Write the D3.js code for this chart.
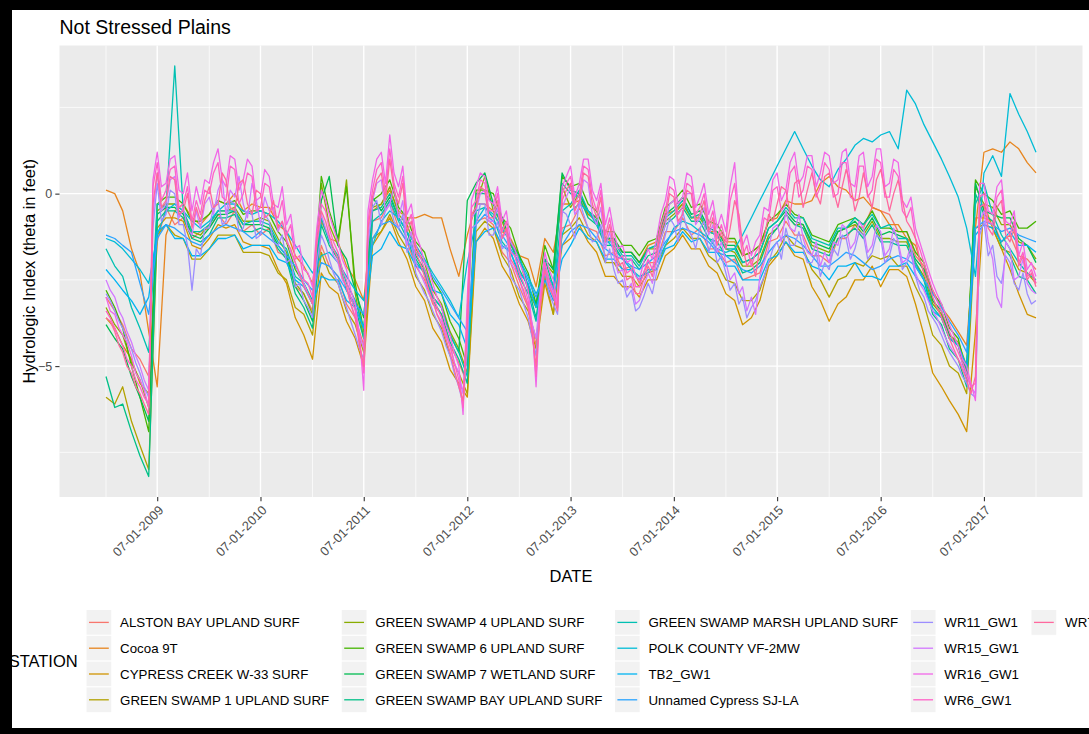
<!DOCTYPE html>
<html>
<head>
<meta charset="utf-8">
<script src="https://cdn.jsdelivr.net/npm/d3@7"></script>
<style>
  body { margin: 0; background: #fff; }
  svg { display: block; }
  text { font-family: "Liberation Sans", Arial, sans-serif; }
</style>
</head>
<body>
<script>

// readings from Jan 2009 to Jan 2018: 109 values = monthly (1st), 217 values = twice a month (1st, 16th)
var firstMonth = new Date(Date.UTC(2009, 0, 1)),
    lastMonth = new Date(Date.UTC(2018, 0, 1));

var stations = [
  "ALSTON BAY UPLAND SURF", "Cocoa 9T", "CYPRESS CREEK W-33 SURF", "GREEN SWAMP 1 UPLAND SURF",
  "GREEN SWAMP 4 UPLAND SURF", "GREEN SWAMP 6 UPLAND SURF", "GREEN SWAMP 7 WETLAND SURF", "GREEN SWAMP BAY UPLAND SURF",
  "GREEN SWAMP MARSH UPLAND SURF", "POLK COUNTY VF-2MW", "TB2_GW1", "Unnamed Cypress SJ-LA",
  "WR11_GW1", "WR15_GW1", "WR16_GW1", "WR6_GW1", "WR7_GW1"
];

var alstonBay = [
  -3.0,-3.4,-3.8,-4.5,-4.8,-5.3,-1.4,-0.4,-0.9,-0.7,-1.3,-1.1,
  -1.0,-0.6,-0.9,-0.5,-1.1,-0.9,-1.2,-1.0,-1.7,-1.8,-2.7,-2.9,
  -3.4,-1.5,-2.1,-2.4,-3.2,-3.6,-4.4,-0.8,-0.7,-0.2,-1.0,-1.4,
  -2.1,-2.5,-3.2,-3.5,-4.4,-4.9,-5.5,-0.8,-0.7,-0.9,-1.7,-2.0,
  -2.7,-3.3,-4.4,-2.2,-3.0,-1.0,-0.9,-0.4,-1.0,-1.1,-1.8,-1.7,
  -2.2,-2.1,-2.6,-2.0,-2.0,-1.1,-1.1,-0.7,-1.2,-1.0,-1.6,-1.6,
  -2.0,-1.9,-2.5,-2.4,-2.3,-1.4,-1.3,-0.8,-1.2,-1.2,-1.8,-1.8,
  -2.0,-1.3,-1.3,-0.9,-1.0,-0.4,-0.5,-0.6,-1.1,-1.1,-1.8,-2.1,
  -3.1,-3.5,-4.2,-4.4,-5.1,-0.7,-0.7,-0.8,-1.4,-1.2,-1.8,-1.9,
  -2.2
];
var cocoa9T = [
  0.1,0.0,-0.5,-1.6,-2.3,-4.0,-5.6,-1.2,-0.5,-0.3,-0.7,-0.9,
  -0.6,-0.2,-0.3,0.0,-0.5,-0.3,-0.4,-0.4,-0.9,-1.1,-1.8,-2.1,
  -2.6,-0.8,-1.3,-1.4,-2.1,-2.5,-3.1,-0.5,-0.3,0.1,-0.5,-0.7,
  -0.7,-0.6,-0.7,-0.7,-1.6,-2.4,-1.2,-0.3,-0.3,-0.5,-1.1,-1.3,
  -1.8,-1.9,-2.7,-1.3,-1.7,-0.3,-0.3,-0.2,-0.6,-0.8,-1.3,-1.4,
  -1.7,-1.7,-2.0,-1.5,-1.4,-0.6,-0.5,-0.3,-0.7,-0.6,-1.1,-1.1,
  -1.4,-1.4,-1.8,-1.7,-1.5,-0.8,-0.7,-0.2,-0.3,-0.3,-0.2,0.3,
  0.5,0.2,0.1,-0.2,-0.1,-0.4,-0.5,-0.9,-0.9,-1.3,-1.5,-2.3,
  -2.8,-3.3,-3.6,-4.0,-4.4,-1.0,1.2,1.3,1.2,1.5,1.3,0.9,
  0.6
];
var cypressCreek = [
  -3.6,-3.9,-4.4,-4.8,-5.5,-5.8,-1.0,-0.7,-0.7,-0.8,-1.5,-1.6,
  -1.3,-0.9,-1.0,-0.9,-1.4,-1.5,-1.5,-1.6,-2.2,-2.6,-3.6,-4.1,
  -4.8,-2.3,-2.7,-2.9,-3.7,-4.2,-5.0,-1.5,-1.1,-0.7,-1.4,-1.9,
  -2.7,-3.1,-3.9,-4.3,-5.1,-5.5,-5.9,-1.4,-1.0,-1.3,-2.1,-2.5,
  -3.2,-3.7,-4.5,-2.6,-3.5,-1.5,-1.3,-0.9,-1.4,-1.7,-2.4,-2.4,
  -2.7,-2.7,-3.0,-2.5,-2.5,-1.8,-1.6,-1.2,-1.6,-1.6,-2.1,-2.3,
  -2.9,-3.1,-3.8,-3.6,-3.1,-2.1,-1.8,-1.4,-1.8,-1.9,-2.7,-3.1,
  -3.7,-3.2,-3.0,-2.5,-2.5,-2.1,-2.7,-2.2,-2.2,-2.4,-3.2,-4.1,
  -5.2,-5.6,-6.0,-6.4,-6.9,-4.0,-0.3,-1.0,-1.6,-2.2,-2.9,-3.5,
  -3.6
];
var greenSwamp1 = [
  -5.9,-6.1,-5.6,-6.6,-7.3,-8.0,-1.2,-0.9,-1.2,-1.3,-1.9,-1.9,
  -1.6,-1.2,-1.2,-1.2,-1.7,-1.7,-1.7,-1.8,-2.3,-2.5,-3.3,-3.5,
  -4.1,-1.7,-2.3,-2.6,-3.4,-3.8,-4.6,-1.3,-1.1,-0.6,-1.2,-1.6,
  -2.4,-2.8,-3.5,-3.9,-4.7,-5.2,-5.8,-1.1,-0.8,-1.0,-1.8,-2.2,
  -3.0,-3.4,-4.2,-2.4,-3.5,-1.2,-1.0,-0.7,-1.2,-1.4,-2.0,-2.0,
  -2.4,-2.4,-2.7,-2.3,-2.2,-1.5,-1.3,-1.0,-1.3,-1.3,-1.8,-2.0,
  -2.5,-2.6,-3.1,-3.1,-2.8,-2.0,-1.7,-1.2,-1.5,-1.6,-2.2,-2.5,
  -3.0,-2.5,-2.4,-2.0,-2.1,-1.8,-1.9,-1.8,-2.1,-2.1,-2.7,-3.2,
  -4.1,-4.4,-5.0,-5.2,-5.8,-1.0,-0.9,-1.0,-1.6,-1.7,-2.2,-2.3,
  -2.6
];
var greenSwamp4 = [
  -3.3,-3.8,-4.1,-4.9,-5.4,-6.2,-0.5,-0.3,-0.3,-0.5,-1.1,-1.2,
  -0.9,-0.5,-0.5,-0.4,-0.8,-0.8,-0.7,-0.8,-1.3,-1.7,-2.6,-2.9,
  -3.5,0.3,-0.9,-1.5,0.4,-2.9,-4.2,-0.4,-0.3,0.2,-0.6,-0.9,
  -1.6,-2.0,-2.8,-3.2,-4.0,-4.5,-5.2,-0.3,0.5,-0.5,-0.8,-1.5,
  -1.9,-2.8,-3.3,-2.0,-2.3,0.2,-0.4,0.0,-0.6,-0.7,-1.3,-1.3,
  -1.7,-1.7,-2.0,-1.6,-1.6,-0.8,-0.6,-0.3,-0.7,-0.7,-1.1,-1.2,
  -1.6,-1.7,-2.1,-2.1,-1.9,-1.2,-1.0,-0.6,-0.9,-0.9,-1.5,-1.6,
  -1.7,-1.1,-1.0,-0.9,-1.2,-0.8,-1.3,-1.3,-1.4,-1.4,-2.0,-2.4,
  -3.2,-3.5,-4.1,-4.3,-5.0,0.2,-0.3,-0.4,-0.9,-0.9,-1.4,-1.5,
  -1.9
];
var greenSwamp6 = [
  -2.8,-3.3,-3.9,-5.0,-5.9,-6.9,-0.3,-0.1,-0.1,-0.3,-0.8,-0.8,
  -0.6,-0.2,-0.3,-0.2,-0.6,-0.5,-0.5,-0.6,-1.1,-1.4,-2.2,-2.6,
  -3.2,0.5,-0.5,-1.3,0.2,-2.6,-4.0,-0.2,0.0,0.4,-0.4,-0.7,
  -1.4,-1.7,-2.5,-2.9,-3.7,-4.2,-5.0,0.1,0.1,0.0,-0.7,-1.0,
  -1.8,-2.3,-3.2,-1.5,-2.2,0.5,0.2,0.3,-0.3,-0.5,-1.1,-1.1,
  -1.5,-1.5,-1.8,-1.4,-1.3,-0.4,-0.2,0.1,-0.4,-0.3,-0.8,-0.9,
  -1.3,-1.3,-1.8,-1.7,-1.5,-0.8,-0.6,-0.3,-0.6,-0.7,-1.2,-1.3,
  -1.4,-0.9,-0.8,-0.7,-0.9,-0.5,-1.0,-1.0,-1.1,-1.1,-1.7,-2.0,
  -2.9,-3.2,-3.9,-4.2,-5.2,0.4,0.0,-0.2,-0.6,-0.5,-1.0,-1.0,
  -0.8
];
var greenSwamp7 = [
  -3.8,-4.2,-4.5,-5.3,-5.9,-6.6,-0.6,-0.4,-0.4,-0.6,-1.2,-1.3,
  -1.0,-0.6,-0.6,-0.5,-0.9,-0.9,-0.9,-1.0,-1.5,-1.8,-2.7,-3.1,
  -3.7,-0.2,0.5,-1.5,-1.9,-2.8,-3.6,-0.1,-0.5,-0.1,-0.7,-1.1,
  -1.8,-2.2,-3.0,-3.3,-4.1,-4.6,-0.2,0.3,0.6,-0.3,-0.7,-1.4,
  -1.8,-2.7,-3.2,-1.9,-2.2,0.6,0.1,0.0,-0.5,-0.7,-1.3,-1.3,
  -1.7,-1.7,-2.0,-1.6,-1.5,-0.6,-0.4,-0.1,-0.6,-0.5,-1.0,-1.1,
  -1.5,-1.5,-2.0,-1.9,-1.7,-1.0,-0.8,-0.5,-0.8,-0.9,-1.4,-1.5,
  -1.6,-1.1,-1.0,-0.8,-1.1,-0.7,-1.2,-1.1,-1.2,-1.3,-1.9,-2.2,
  -3.1,-3.4,-4.1,-4.4,-5.4,0.3,-0.5,-0.6,-0.7,-0.7,-1.3,-1.5,
  -2.0
];
var greenSwampBay = [
  -5.3,-6.2,-6.1,-6.9,-7.6,-8.2,-0.8,-0.5,-0.5,-0.7,-1.3,-1.4,
  -1.2,-0.7,-0.7,-0.6,-1.1,-1.1,-1.0,-1.1,-1.6,-1.9,-2.9,-3.3,
  -3.9,-0.9,-1.5,-1.9,-2.8,-3.3,-4.2,-0.5,-0.4,0.0,-0.7,-1.1,
  -1.9,-2.3,-3.1,-3.5,-4.3,-4.8,-5.5,0.0,0.0,-0.3,-1.0,-1.4,
  -2.2,-2.7,-3.6,-1.9,-2.7,0.3,0.0,-0.1,-0.7,-0.9,-1.5,-1.5,
  -1.9,-1.9,-2.2,-1.8,-1.7,-0.9,-0.7,-0.4,-0.8,-0.8,-1.3,-1.4,
  -1.8,-1.8,-2.3,-2.2,-2.0,-1.3,-1.0,-0.6,-0.9,-1.0,-1.6,-1.7,
  -1.8,-1.3,-1.2,-1.0,-1.3,-0.9,-1.4,-1.4,-1.5,-1.5,-2.1,-2.5,
  -3.5,-3.8,-4.5,-4.8,-5.6,0.0,-0.6,-0.8,-1.5,-1.8,-2.4,-2.5,
  -2.9
];
var greenSwampMarsh = [
  -1.6,-2.1,-2.4,-3.3,-3.9,-4.6,-0.3,-0.4,3.7,-0.5,-1.1,-1.1,
  -0.9,-0.5,-0.5,-0.5,-0.9,-0.8,-0.8,-0.9,-1.4,-1.6,-2.4,-2.6,
  -3.1,-0.7,-1.4,-1.8,-2.6,-3.1,-3.9,-0.8,-0.6,-0.2,-0.8,-1.3,
  -2.0,-2.3,-3.0,-3.3,-4.1,-4.6,-5.3,-0.5,-0.4,-0.7,-1.4,-1.7,
  -2.4,-2.9,-3.7,-2.1,-2.8,-0.5,-0.3,0.1,-0.5,-0.8,-1.4,-1.4,
  -1.8,-1.8,-2.1,-1.6,-1.5,-0.7,-0.5,-0.2,-0.7,-0.6,-1.1,-1.2,
  -1.6,-1.6,-2.0,-1.9,-1.7,-1.0,-0.8,-0.4,-0.7,-0.7,-1.3,-1.4,
  -1.5,-1.0,-1.0,-0.7,-0.9,-0.6,-1.0,-0.9,-1.3,-1.3,-2.0,-2.5,
  -3.3,-3.6,-4.2,-4.4,-5.1,-0.3,0.3,-0.6,-1.2,-1.6,-2.0,-2.3,
  -2.5
];
var polkCounty = [
  -1.3,-1.4,-1.6,-1.9,-2.2,-2.6,-1.2,-0.5,-0.3,-0.5,-0.8,-1.0,
  -0.8,-0.5,-0.3,-0.3,-0.5,-0.6,-0.5,-0.6,-0.8,-1.1,-1.5,-1.9,
  -2.3,-1.8,-1.7,-2.0,-2.4,-2.8,-3.1,-1.5,-0.8,-0.5,-0.7,-1.1,
  -1.5,-1.9,-2.3,-2.7,-3.1,-3.6,-2.0,-0.8,-0.4,-0.6,-1.0,-1.4,
  -1.9,-2.4,-2.9,-2.4,-2.6,-1.2,-0.5,-0.3,-0.5,-0.9,-1.3,-1.6,
  -1.9,-2.2,-2.4,-2.3,-2.0,-1.5,-1.0,-0.8,-0.9,-1.1,-1.3,-1.6,
  -1.7,-1.6,-1.2,-0.7,-0.2,0.3,0.8,1.3,1.8,1.3,0.8,0.4,
  0.2,0.7,1.0,1.4,1.6,1.5,1.7,1.8,1.3,3.0,2.6,2.0,
  1.5,1.0,0.5,-0.1,-1.0,-2.4,0.6,1.1,0.5,2.9,2.3,1.8,
  1.2
];
var tb2 = [
  -2.2,-2.5,-2.8,-3.1,-3.5,-3.0,-1.1,-0.9,-1.3,-1.3,-1.8,-1.8,
  -1.6,-1.3,-1.3,-1.2,-1.6,-1.5,-1.5,-1.5,-1.9,-2.0,-2.5,-2.7,
  -3.2,-2.4,-2.5,-2.5,-3.1,-3.3,-3.9,-1.8,-1.6,-1.1,-1.5,-1.6,
  -2.1,-2.2,-2.8,-2.9,-3.5,-3.8,-4.5,-1.4,-1.1,-1.0,-1.5,-1.7,
  -2.3,-2.6,-3.3,-2.5,-3.1,-1.9,-1.5,-1.0,-1.3,-1.4,-1.9,-1.9,
  -2.2,-2.2,-2.5,-2.2,-2.2,-1.6,-1.5,-1.1,-1.4,-1.3,-1.7,-1.7,
  -2.1,-2.1,-2.5,-2.5,-2.5,-1.9,-1.8,-1.4,-1.7,-1.7,-2.1,-2.2,
  -2.5,-2.1,-2.1,-2.0,-2.4,-2.4,-2.5,-2.1,-2.1,-2.0,-2.4,-2.7,
  -3.4,-3.6,-4.2,-4.4,-5.0,-1.2,-0.9,-1.0,-1.4,-1.1,-1.5,-1.5,
  -1.7
];
var unnamedCypress = [
  -1.2,-1.3,-1.5,-1.7,-2.6,-3.5,-1.3,-0.9,-1.0,-1.2,-1.4,-1.5,
  -1.2,-1.0,-0.9,-1.0,-1.1,-1.3,-1.1,-1.3,-1.5,-1.8,-2.1,-2.5,
  -2.8,-2.0,-2.1,-2.4,-2.8,-3.2,-3.5,-1.3,-0.9,-0.8,-1.0,-1.4,
  -1.7,-2.0,-2.4,-2.8,-3.2,-3.6,-4.0,-0.9,-0.6,-0.8,-1.2,-1.6,
  -2.0,-2.5,-3.0,-2.3,-2.8,-1.5,-1.1,-0.9,-1.0,-1.3,-1.6,-1.8,
  -1.9,-2.1,-2.2,-2.0,-1.8,-1.4,-1.1,-1.0,-1.1,-1.2,-1.4,-1.7,
  -1.8,-2.0,-2.2,-2.3,-2.1,-1.7,-1.4,-1.2,-1.3,-1.5,-1.8,-2.1,
  -2.1,-1.9,-1.7,-1.8,-2.0,-2.2,-2.1,-1.9,-1.8,-1.9,-2.1,-2.5,
  -2.9,-3.3,-3.7,-4.1,-4.6,-1.0,-0.8,-0.9,-1.1,-1.0,-1.2,-1.3,
  -1.4
];
var wr11 = [
  -2.9,-3.1,-3.4,-3.7,-3.9,-4.2,-4.5,-4.9,-5.2,-5.6,-5.9,-1.0,0.3,-0.8,-0.6,0.1,0.0,-0.9,-0.9,-1.5,-2.8,-1.6,-1.8,-1.0,
  -1.0,-0.4,-0.2,-0.9,-0.8,-0.2,-0.3,-1.1,-1.0,-0.5,-0.6,-1.3,-1.2,-0.6,-0.8,-1.4,-1.5,-1.2,-2.0,-1.9,-2.7,-2.6,-3.1,-3.3,
  -3.6,-2.0,-1.2,-1.5,-1.9,-2.3,-2.6,-3.0,-3.3,-3.7,-4.1,-4.5,-4.8,-1.5,-0.4,-0.2,-0.9,-0.5,-0.3,-0.8,-1.0,-0.6,-1.7,-1.4,
  -2.3,-2.6,-2.9,-3.1,-3.4,-3.7,-4.0,-4.4,-4.7,-5.2,-5.6,-6.1,-4.5,-1.0,-0.9,-0.3,-0.3,-1.2,-1.2,-0.8,-1.6,-1.5,-2.4,-2.6,
  -2.8,-3.2,-3.6,-4.2,-4.7,-3.0,-2.2,-2.9,-3.2,-3.5,-0.5,-0.6,-0.9,-1.3,-0.2,-0.6,-1.0,-1.4,-1.3,-0.9,-2.0,-1.6,-2.2,-2.6,
  -2.5,-3.0,-2.8,-3.4,-3.3,-3.0,-2.6,-2.9,-2.3,-1.7,-1.2,-0.7,-0.9,-1.4,-0.5,-1.0,-1.2,-1.6,-1.0,-0.8,-1.7,-1.3,-2.0,-1.8,
  -2.3,-2.8,-2.6,-3.2,-3.0,-3.6,-3.3,-3.1,-2.7,-2.4,-2.0,-1.6,-1.4,-1.9,-1.0,-1.5,-1.5,-1.1,-1.6,-2.0,-2.0,-1.7,-2.4,-2.0,
  -2.2,-1.6,-1.8,-1.2,-1.3,-1.9,-1.6,-1.1,-1.2,-1.9,-1.7,-1.2,-1.3,-2.0,-1.8,-1.3,-1.5,-2.2,-2.0,-1.7,-2.4,-2.8,-3.0,-3.4,
  -3.6,-3.8,-4.1,-4.4,-4.6,-4.8,-5.0,-5.3,-5.5,-5.8,-5.9,-1.2,-0.8,-1.8,-1.5,-2.4,-2.6,-1.8,-2.0,-2.6,-2.8,-2.3,-2.9,-3.2,
  -3.1
];
var wr15 = [
  -2.5,-2.8,-3.0,-3.4,-3.6,-4.0,-4.3,-4.7,-5.0,-5.4,-5.7,-0.6,0.6,-0.5,-0.3,0.4,0.5,-0.7,-0.4,-1.0,-1.2,-0.5,-1.0,-0.3,
  -0.1,-0.6,0.1,0.4,-0.6,0.1,-0.1,0.5,-0.3,-0.7,0.3,-0.2,-0.9,-0.1,-0.5,-0.4,-1.1,-0.8,-1.3,-1.7,-2.0,-2.4,-2.6,-2.9,
  -3.2,-1.5,-0.6,-1.0,-1.3,-1.8,-2.0,-2.5,-2.7,-3.2,-3.6,-4.1,-4.5,-1.2,-0.2,0.3,0.4,-0.5,-0.3,0.2,-0.7,-0.2,-1.5,-1.1,
  -2.0,-2.3,-2.6,-2.9,-3.1,-3.5,-3.7,-4.1,-4.4,-4.9,-5.2,-5.8,-3.8,-0.7,-0.5,0.0,0.1,-0.8,-0.8,-0.4,-1.3,-1.1,-2.0,-2.2,
  -2.5,-2.9,-3.2,-3.8,-4.2,-2.8,-2.0,-2.6,-2.9,-3.3,-0.4,-0.1,0.2,-0.6,-0.4,0.4,0.3,-0.6,-0.9,-0.4,-1.6,-1.1,-1.8,-2.3,
  -2.2,-2.8,-2.6,-3.2,-3.1,-2.7,-2.3,-2.6,-2.0,-1.3,-0.9,-0.3,-0.2,-0.9,-0.6,0.0,0.0,-0.9,-0.7,-0.4,-1.2,-0.9,-1.7,-1.4,
  -2.0,-2.5,-2.3,-2.9,-2.7,-3.4,-3.0,-3.5,-2.4,-2.0,-1.6,-1.0,-0.9,-1.4,-0.5,-1.0,-1.1,-0.6,-1.3,-1.7,-1.8,-1.4,-2.1,-1.7,
  -2.0,-1.4,-1.5,-0.9,-1.0,-1.6,-1.4,-0.8,-1.0,-1.7,-1.5,-0.9,-1.1,-1.8,-1.6,-1.0,-1.4,-2.0,-1.9,-1.5,-2.3,-2.6,-2.8,-3.1,
  -3.4,-3.6,-3.9,-4.2,-4.4,-4.6,-4.8,-5.0,-5.3,-5.6,-5.8,-0.8,-0.5,-1.4,-1.9,-3.0,-3.3,-1.4,-1.6,-2.5,-2.4,-1.9,-2.6,-2.8,
  -2.9
];
var wr16 = [
  -3.0,-3.4,-3.5,-3.9,-4.1,-4.3,-4.7,-5.2,-5.4,-5.7,-6.2,0.4,1.2,0.2,0.3,1.0,1.1,0.1,0.0,0.6,-0.5,0.2,-0.3,0.4,
  0.3,0.9,1.3,0.4,0.2,1.1,1.0,0.1,0.4,1.0,0.8,-0.2,-0.1,0.7,0.5,-0.3,-0.4,0.2,-0.9,-0.6,-1.6,-1.5,-2.2,-2.3,
  -2.7,-1.0,0.1,-0.2,-0.6,-1.0,-1.4,-1.9,-2.2,-2.8,-3.2,-4.1,-5.7,-0.5,0.4,1.0,1.2,0.3,1.7,0.6,0.2,0.8,-0.6,-0.3,
  -1.2,-1.5,-2.0,-2.2,-2.6,-3.0,-3.3,-3.8,-4.1,-4.6,-5.0,-6.4,-3.0,-0.2,0.2,0.6,0.5,-0.2,-0.3,0.2,-0.8,-0.5,-1.4,-1.6,
  -2.0,-2.3,-2.8,-3.9,-5.6,-3.0,-1.7,-2.2,-2.5,-3.2,0.2,0.5,0.8,-0.1,0.3,1.0,1.0,0.1,-0.2,0.3,-0.9,-0.4,-1.1,-1.6,
  -1.5,-2.0,-1.9,-2.4,-2.5,-2.0,-1.6,-1.9,-1.3,-0.6,-0.2,0.5,0.4,-0.3,-0.1,0.6,0.5,-0.4,-0.1,0.3,-0.6,-0.2,-1.0,-0.6,
  -1.1,0.2,0.9,-0.8,-1.5,-1.2,-1.8,-1.4,-1.2,-0.4,-0.5,0.4,0.6,-0.2,0.1,0.9,1.2,0.3,0.5,1.1,1.1,0.2,0.6,1.2,
  1.1,0.3,0.4,1.2,1.3,0.3,0.2,1.1,1.2,0.2,0.5,1.3,1.3,0.2,0.3,1.0,0.9,-0.2,-0.4,-0.1,-1.0,-1.4,-1.8,-2.2,
  -2.6,-2.9,-3.2,-3.5,-3.8,-4.1,-4.4,-4.8,-5.0,-5.5,-6.0,0.3,0.3,-0.5,-0.6,0.2,0.4,-0.8,-0.9,-0.5,-1.8,-1.4,-2.2,-2.0,
  -2.4
];
var wr6 = [
  -3.4,-3.6,-3.9,-4.2,-4.4,-4.8,-5.0,-5.4,-5.6,-5.9,-6.1,0.2,0.9,-0.2,0.1,0.7,0.8,-0.4,-0.3,0.2,-0.8,-0.2,-0.6,0.1,
  0.0,0.6,0.9,-0.1,-0.2,0.8,0.7,-0.3,0.0,0.6,0.5,-0.5,-0.4,0.3,0.2,-0.6,-0.7,-0.2,-1.2,-0.9,-1.9,-1.8,-2.5,-2.6,
  -3.0,-1.2,-0.3,-0.5,-1.0,-1.4,-1.7,-2.2,-2.5,-3.0,-3.4,-4.3,-5.2,-0.8,0.1,0.7,0.9,0.0,1.3,0.3,-0.1,0.5,-0.9,-0.6,
  -1.5,-1.8,-2.2,-2.6,-2.9,-3.3,-3.6,-4.0,-4.4,-4.9,-5.4,-6.2,-3.4,-0.4,-0.2,0.4,0.3,-0.5,-0.5,0.0,-1.1,-0.8,-1.7,-1.8,
  -2.3,-2.6,-3.1,-4.0,-5.3,-3.2,-2.0,-2.5,-2.8,-3.3,0.0,0.3,0.5,-0.3,0.0,0.8,0.7,-0.1,-0.5,0.1,-1.2,-0.7,-1.4,-1.9,
  -1.8,-2.3,-2.2,-2.7,-2.7,-2.3,-1.9,-2.2,-1.6,-0.9,-0.5,0.2,0.1,-0.6,-0.4,0.3,0.2,-0.6,-0.4,0.0,-0.9,-0.5,-1.3,-0.9,
  -1.4,-0.2,0.3,-1.0,-1.8,-1.5,-2.1,-1.7,-1.5,-0.7,-0.8,0.1,0.2,-0.5,-0.3,0.6,0.8,-0.1,0.1,0.8,0.7,-0.1,0.2,0.9,
  0.7,-0.1,0.0,0.9,0.9,-0.1,-0.2,0.8,0.8,-0.1,0.1,1.0,0.9,-0.1,-0.1,0.7,0.5,-0.5,-0.7,-0.4,-1.3,-1.6,-2.0,-2.4,
  -2.8,-3.1,-3.4,-3.7,-4.0,-4.3,-4.6,-4.9,-5.2,-5.6,-5.5,-0.1,0.0,-0.8,-0.9,-0.1,0.1,-1.0,-1.2,-0.8,-2.0,-1.7,-2.4,-2.2,
  -2.6
];
var wr7 = [
  -3.6,-3.7,-4.0,-4.4,-4.6,-5.0,-5.2,-5.6,-5.8,-6.1,-6.4,-0.3,0.6,-0.4,-0.2,0.5,0.4,-0.6,-0.5,0.0,-1.0,-0.4,-0.8,-0.2,
  0.2,-0.4,-0.3,0.6,0.4,-0.4,-0.5,0.3,0.4,-0.3,-0.6,0.1,0.0,-0.7,-0.6,-0.2,-1.0,-0.8,-1.4,-1.6,-2.0,-2.3,-2.7,-2.9,
  -3.2,-1.4,-0.5,-0.8,-1.2,-1.6,-1.9,-2.4,-2.7,-3.2,-3.6,-4.4,-5.0,-1.0,-0.1,0.4,0.6,-0.2,1.0,0.1,-0.3,0.3,-1.1,-0.8,
  -1.7,-2.0,-2.4,-2.8,-3.1,-3.5,-3.8,-4.2,-4.6,-5.1,-5.6,-6.0,-4.0,-0.6,-0.4,0.2,0.1,-0.7,-0.7,-0.2,-1.3,-1.0,-1.9,-2.1,
  -2.5,-2.8,-3.3,-4.1,-5.0,-3.3,-2.2,-2.7,-3.0,-3.4,-0.2,0.1,0.3,-0.5,-0.2,0.6,0.5,-0.3,-0.7,-0.1,-1.4,-0.9,-1.6,-2.1,
  -2.0,-2.5,-2.4,-2.9,-2.9,-2.5,-2.1,-2.4,-1.8,-1.1,-0.7,0.0,-0.1,-0.8,-0.6,0.1,0.0,-0.8,-0.6,-0.2,-1.1,-0.7,-1.5,-1.1,
  -1.6,-1.0,-0.2,-0.6,-1.5,-2.1,-1.9,-2.4,-1.5,-1.3,-0.6,-0.8,-0.3,0.2,0.1,-0.6,0.3,0.4,-0.4,0.1,0.6,0.0,-0.3,0.5,
  0.6,0.1,-0.4,0.2,0.7,0.3,-0.5,-0.1,0.6,0.0,-0.4,0.4,0.7,0.1,-0.5,0.0,0.4,-0.2,-0.8,-1.0,-1.3,-1.9,-2.3,-2.6,
  -3.0,-3.3,-3.6,-3.9,-4.2,-4.5,-4.8,-5.1,-5.4,-5.8,-5.3,-0.4,-0.3,-1.0,-1.2,-0.4,-0.2,-1.2,-1.4,-1.0,-2.1,-1.8,-2.5,-2.3,
  -2.7
];

var stationValues = [alstonBay, cocoa9T, cypressCreek, greenSwamp1, greenSwamp4, greenSwamp6,
  greenSwamp7, greenSwampBay, greenSwampMarsh, polkCounty, tb2, unnamedCypress,
  wr11, wr15, wr16, wr6, wr7];

var xTickDates = ["2009-07-01", "2010-07-01", "2011-07-01", "2012-07-01", "2013-07-01",
  "2014-07-01", "2015-07-01", "2016-07-01", "2017-07-01"];
var xMinorDates = ["2009-01-01", "2010-01-01", "2011-01-01", "2012-01-01", "2013-01-01",
  "2014-01-01", "2015-01-01", "2016-01-01", "2017-01-01", "2018-01-01"];
var yTicks = [0, -5];
var yMinorTicks = [2.5, -2.5, -7.5];

var width = 1089,
    height = 734,
    panel = { left: 59.5, right: 1082.5, top: 45.5, bottom: 497 };

var months = d3.utcMonth.range(firstMonth, d3.utcDay.offset(lastMonth, 1));
var halfMonths = [];
months.forEach(function(m, i) {
  halfMonths.push(m);
  if (i < months.length - 1) halfMonths.push(d3.utcDay.offset(m, 15));
});
var parseDay = d3.utcParse("%Y-%m-%d");
var fmt = d3.utcFormat("%m-%d-%Y");

// ggplot-like hue palette (polar LUV), computed instead of typed
function hclLuv(h, c, l) {
  var wu = 0.1978398, wv = 0.4683363;
  var rad = h * Math.PI / 180,
      U = c * Math.cos(rad), V = c * Math.sin(rad);
  var Y = 100 * (l > 7.999592 ? Math.pow((l + 16) / 116, 3) : l / 903.3);
  var u = U / (13 * l) + wu, v = V / (13 * l) + wv;
  var X = 9 * Y * u / (4 * v);
  var Z = -X / 3 - 5 * Y + 3 * Y / v;
  function g(t) {
    t = t > 0.00304 ? 1.055 * Math.pow(t, 1 / 2.4) - 0.055 : 12.92 * t;
    return Math.round(255 * Math.max(0, Math.min(1, t)));
  }
  var r = g((3.240479 * X - 1.53715 * Y - 0.498535 * Z) / 100),
      gg = g((-0.969256 * X + 1.875992 * Y + 0.041556 * Z) / 100),
      b = g((0.055648 * X - 0.204043 * Y + 1.057311 * Z) / 100);
  return d3.rgb(r, gg, b).formatHex();
}

var n = stations.length;
var color = d3.scaleOrdinal()
    .domain(stations)
    .range(stations.map(function(d, i) { return hclLuv(15 + i * 360 / n, 100, 65); }));

var series = stations.map(function(name, i) {
  var vals = stationValues[i],
      dates = vals.length > months.length ? halfMonths : months;
  return {
    name: name,
    values: vals.map(function(v, j) { return { date: dates[j], value: v }; })
  };
});

// scales with 5% expansion like ggplot
var t0 = +firstMonth, t1 = +lastMonth, tPad = (t1 - t0) * 0.05;
var x = d3.scaleUtc()
    .domain([new Date(t0 - tPad), new Date(t1 + tPad)])
    .range([panel.left, panel.right]);

var allVals = d3.merge(stationValues);
var vMin = d3.min(allVals), vMax = d3.max(allVals), vPad = (vMax - vMin) * 0.05;
var y = d3.scaleLinear()
    .domain([vMin - vPad, vMax + vPad])
    .range([panel.bottom, panel.top]);

var svg = d3.select("body").append("svg")
    .attr("width", width)
    .attr("height", height);

svg.append("rect").attr("width", width).attr("height", height).attr("fill", "#fff");

// title
svg.append("text")
    .attr("x", panel.left)
    .attr("y", 34)
    .attr("font-size", 19.5)
    .attr("fill", "#000")
    .text("Not Stressed Plains");

// panel
svg.append("rect")
    .attr("x", panel.left)
    .attr("y", panel.top)
    .attr("width", panel.right - panel.left)
    .attr("height", panel.bottom - panel.top)
    .attr("fill", "#EBEBEB");

var grid = svg.append("g");
grid.selectAll(".ymin").data(yMinorTicks).enter().append("line")
    .attr("x1", panel.left).attr("x2", panel.right)
    .attr("y1", y).attr("y2", y)
    .attr("stroke", "#fff").attr("stroke-width", 0.7);
grid.selectAll(".xmin").data(xMinorDates.map(parseDay)).enter().append("line")
    .attr("x1", x).attr("x2", x)
    .attr("y1", panel.top).attr("y2", panel.bottom)
    .attr("stroke", "#fff").attr("stroke-width", 0.7);
grid.selectAll(".ymaj").data(yTicks).enter().append("line")
    .attr("x1", panel.left).attr("x2", panel.right)
    .attr("y1", y).attr("y2", y)
    .attr("stroke", "#fff").attr("stroke-width", 1.4);
grid.selectAll(".xmaj").data(xTickDates.map(parseDay)).enter().append("line")
    .attr("x1", x).attr("x2", x)
    .attr("y1", panel.top).attr("y2", panel.bottom)
    .attr("stroke", "#fff").attr("stroke-width", 1.4);

// lines, drawn in legend order so the WR stations end on top
var line = d3.line()
    .defined(function(d) { return d.value != null; })
    .x(function(d) { return x(d.date); })
    .y(function(d) { return y(d.value); });

var plot = svg.append("g");
plot.selectAll("path")
    .data(series)
    .enter().append("path")
    .attr("fill", "none")
    .attr("stroke", function(d) { return color(d.name); })
    .attr("stroke-width", 1.3)
    .attr("stroke-linejoin", "round")
    .attr("d", function(d) { return line(d.values); });

// axes
var xAxis = svg.append("g")
    .attr("transform", "translate(0," + panel.bottom + ")")
    .call(d3.axisBottom(x)
      .tickValues(xTickDates.map(parseDay))
      .tickFormat(fmt)
      .tickSize(4.2)
      .tickPadding(3));
xAxis.select(".domain").remove();
xAxis.selectAll(".tick line").attr("stroke", "#333").attr("stroke-width", 1.1);
xAxis.selectAll(".tick text")
    .attr("font-size", 12.8)
    .attr("fill", "#4D4D4D")
    .attr("text-anchor", "end")
    .attr("y", 0)
    .attr("dy", "0.72em")
    .attr("transform", "translate(0,7.5) rotate(-45)");

var yAxis = svg.append("g")
    .attr("transform", "translate(" + panel.left + ",0)")
    .call(d3.axisLeft(y).tickValues(yTicks).tickFormat(d3.format("d")).tickSize(4.2).tickPadding(3));
yAxis.select(".domain").remove();
yAxis.selectAll(".tick line").attr("stroke", "#333").attr("stroke-width", 1.1);
yAxis.selectAll(".tick text").attr("font-size", 12.5).attr("fill", "#4D4D4D");
yAxis.selectAll("text").attr("font-family", null);
xAxis.selectAll("text").attr("font-family", null);

svg.append("text")
    .attr("x", (panel.left + panel.right) / 2)
    .attr("y", 582)
    .attr("text-anchor", "middle")
    .attr("font-size", 16.5)
    .text("DATE");

svg.append("text")
    .attr("transform", "translate(34.5," + (panel.top + panel.bottom) / 2 + ") rotate(-90)")
    .attr("text-anchor", "middle")
    .attr("font-size", 16.5)
    .text("Hydrologic Index (theta in feet)");

// legend: 4 rows, filled by column; runs past the right edge like the original
var keySize = 25.8, legendTop = 609.5, keyX = 86, nrow = 4;
var legend = svg.append("g");
legend.append("text")
    .attr("x", keyX - 8.3)
    .attr("y", legendTop + nrow * keySize / 2)
    .attr("dy", "0.36em")
    .attr("text-anchor", "end")
    .attr("font-size", 16.5)
    .text("STATION");

var colX = keyX;
for (var c = 0; c * nrow < n; c++) {
  var items = stations.slice(c * nrow, c * nrow + nrow);
  var maxW = 0;
  items.forEach(function(name, r) {
    var ky = legendTop + r * keySize;
    legend.append("rect")
        .attr("x", colX).attr("y", ky)
        .attr("width", keySize).attr("height", keySize)
        .attr("fill", "#F2F2F2").attr("stroke", "#fff").attr("stroke-width", 1);
    legend.append("line")
        .attr("x1", colX + 3).attr("x2", colX + keySize - 3)
        .attr("y1", ky + keySize / 2).attr("y2", ky + keySize / 2)
        .attr("stroke", color(name)).attr("stroke-width", 1.3);
    var t = legend.append("text")
        .attr("x", colX + keySize + 8.3)
        .attr("y", ky + keySize / 2)
        .attr("dy", "0.36em")
        .attr("font-size", 13.3)
        .text(name);
    maxW = Math.max(maxW, t.node().getComputedTextLength());
  });
  colX += keySize + 8.3 + maxW + 12;
}

// black frame of the screenshot
svg.append("rect").attr("x", 0).attr("y", 0).attr("width", 12).attr("height", height).attr("fill", "#000");
svg.append("rect").attr("x", 0).attr("y", 0).attr("width", width).attr("height", 10).attr("fill", "#000");
svg.append("rect").attr("x", 0).attr("y", 728).attr("width", width).attr("height", height - 728).attr("fill", "#000");

</script>
</body>
</html>
